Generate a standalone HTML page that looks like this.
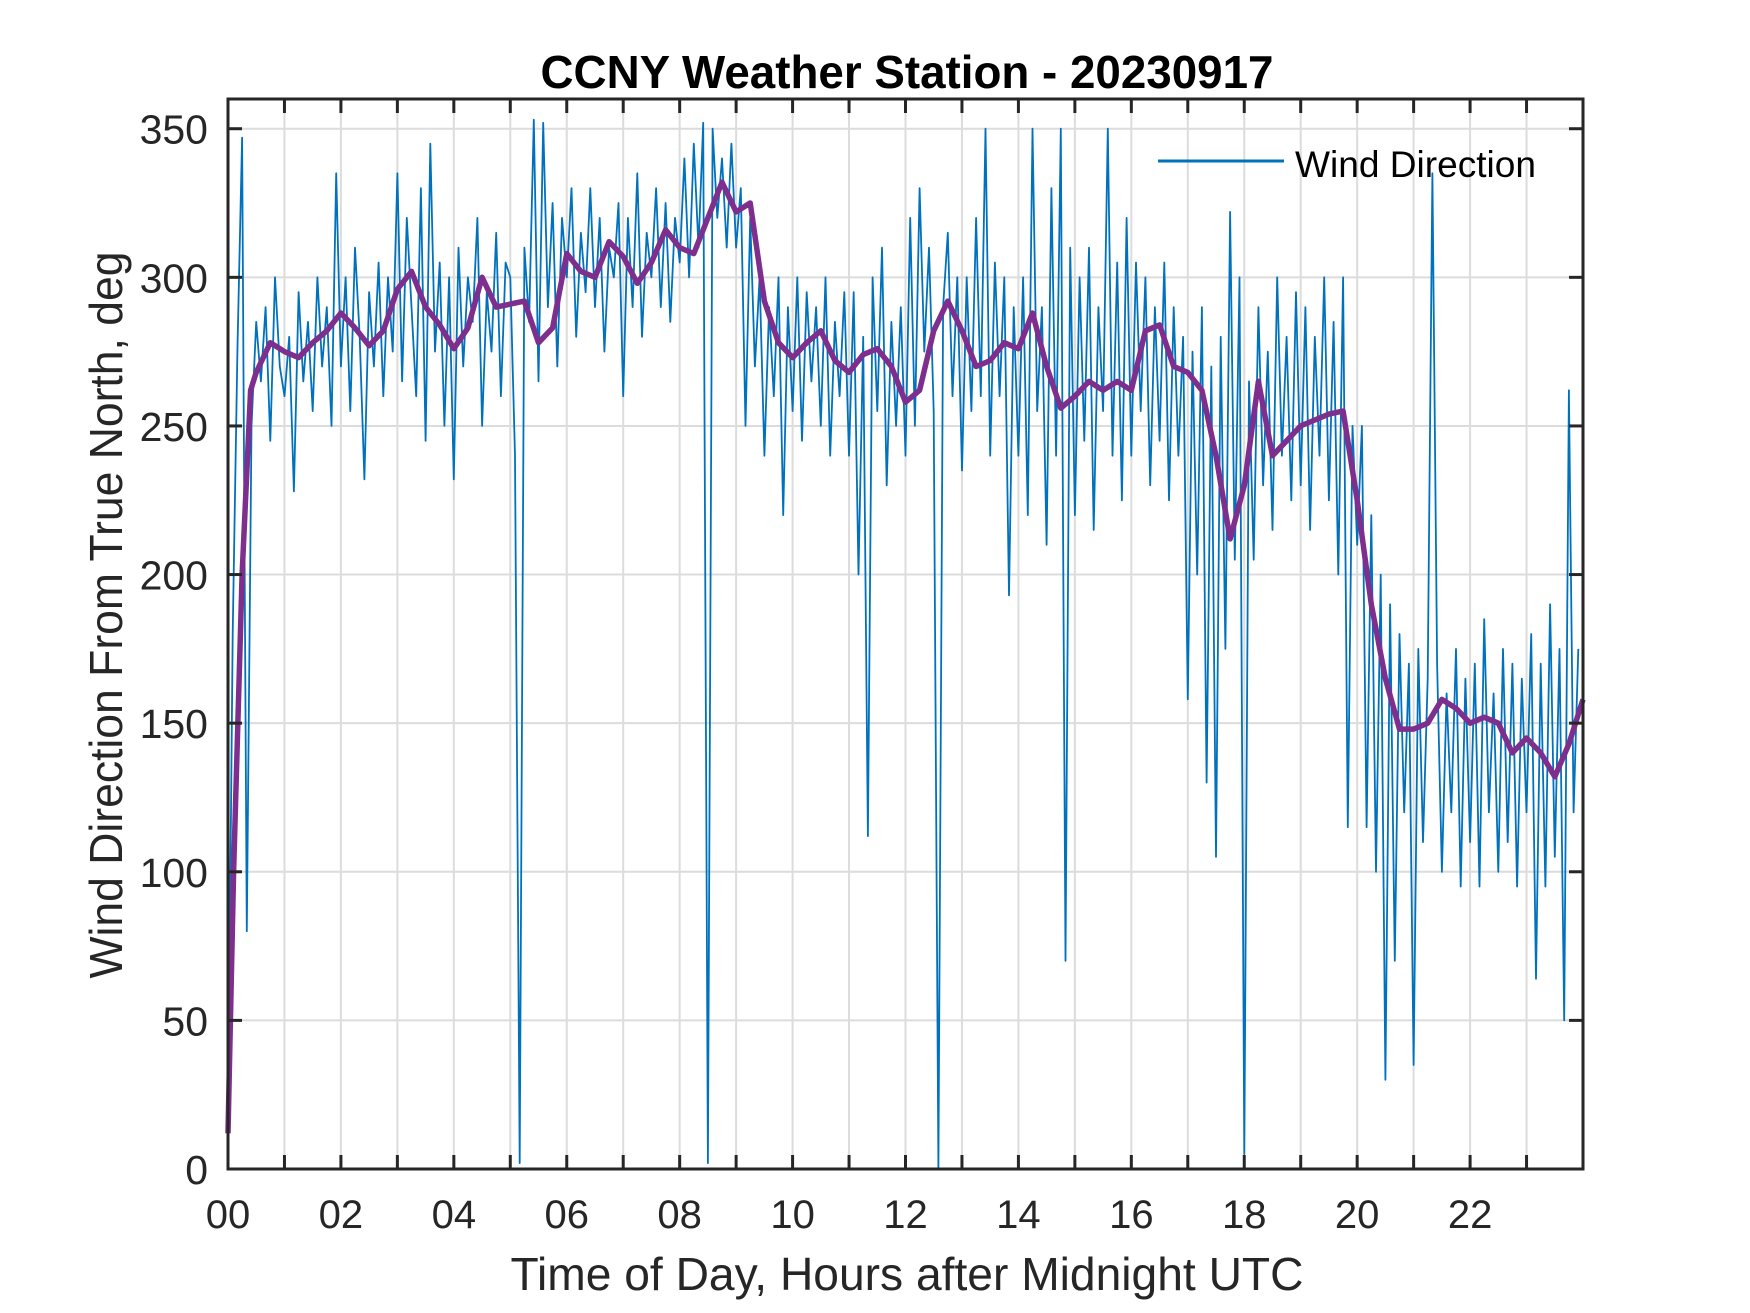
<!DOCTYPE html>
<html>
<head>
<meta charset="utf-8">
<style>
html,body{margin:0;padding:0;background:#fff;}
svg{display:block;}
text{font-family:"Liberation Sans",Arial,sans-serif;}
</style>
</head>
<body>
<svg id="chart" width="1750" height="1313" viewBox="0 0 1750 1313" xmlns="http://www.w3.org/2000/svg">
  <rect x="0" y="0" width="1750" height="1313" fill="#fff"/>
  <g id="grid"></g>
  <g id="plot"></g>
  <g id="axes"></g>
  <text x="907" y="88" text-anchor="middle" font-size="46" font-weight="bold" textLength="733" lengthAdjust="spacingAndGlyphs" fill="#000">CCNY Weather Station - 20230917</text>
  <text x="907" y="1290" text-anchor="middle" font-size="46" textLength="793" lengthAdjust="spacingAndGlyphs" fill="#262626">Time of Day, Hours after Midnight UTC</text>
  <text transform="translate(122,615) rotate(-90)" text-anchor="middle" font-size="46" textLength="727" lengthAdjust="spacingAndGlyphs" fill="#262626">Wind Direction From True North, deg</text>
  <g>
    <line x1="1158" y1="161" x2="1284" y2="161" stroke="#0072BD" stroke-width="3"/>
    <text x="1295" y="177" font-size="37" fill="#000" textLength="241" lengthAdjust="spacingAndGlyphs">Wind Direction</text>
  </g>
</svg>
<script>
const rawValues = [
15,180,275,347,80,250,285,265,290,245,300,270,
260,280,228,295,265,285,255,300,270,290,250,335,
270,300,255,310,280,232,295,270,305,260,300,275,
335,265,320,290,260,330,245,345,275,305,250,300,
232,310,270,300,285,320,250,295,275,315,260,305,
300,240,2,310,285,353,265,352,290,325,270,320,
300,330,280,315,295,330,290,320,275,310,300,325,
260,320,290,335,280,315,300,330,290,325,285,320,
305,340,300,345,310,352,2,350,320,340,310,345,
310,330,250,320,270,300,240,290,260,300,220,290,
255,300,245,295,265,290,250,300,240,285,260,295,
240,295,200,280,112,300,255,310,230,285,250,290,
240,320,250,330,275,310,255,0,290,315,260,300,
235,300,255,320,260,350,240,305,260,300,193,290,
240,300,220,350,255,290,210,330,240,350,70,310,
220,300,245,310,215,290,255,350,240,305,225,320,
240,305,255,300,230,290,245,305,225,290,240,280,
158,275,200,290,130,270,105,280,175,322,205,300,
5,265,205,290,230,275,215,300,240,280,225,295,
230,290,215,280,240,300,225,285,200,300,115,250,
210,250,115,220,100,200,30,190,70,180,120,170,
35,175,110,165,335,170,100,160,120,175,95,165,
110,170,95,185,120,160,100,175,110,170,95,165,
120,180,64,170,95,190,105,175,50,262,120,175
];
const meanHours = [0,0.1,0.25,0.4,0.5,0.75,1,1.25,1.5,1.75,2,2.25,2.5,2.75,3,3.25,3.5,3.75,4,4.25,4.5,4.75,5,5.25,5.5,5.75,6,6.25,6.5,6.75,7,7.25,7.5,7.75,8,8.25,8.5,8.75,9,9.25,9.5,9.75,10,10.25,10.5,10.75,11,11.25,11.5,11.75,12,12.25,12.5,12.75,13,13.25,13.5,13.75,14,14.25,14.5,14.75,15,15.25,15.5,15.75,16,16.25,16.5,16.75,17,17.25,17.5,17.75,18,18.25,18.5,18.75,19,19.25,19.5,19.75,20,20.25,20.5,20.75,21,21.25,21.5,21.75,22,22.25,22.5,22.75,23,23.25,23.5,23.75,24];
const meanValues = [12,100,200,262,268,278,275,273,278,282,288,283,277,282,296,302,290,284,276,283,300,290,291,292,278,283,308,302,300,312,307,298,305,316,310,308,320,332,322,325,292,278,273,278,282,272,268,274,276,270,258,262,282,292,282,270,272,278,276,288,270,256,260,265,262,265,262,282,284,270,268,262,240,212,230,265,240,245,250,252,254,255,225,190,165,148,148,150,158,155,150,152,150,140,145,140,132,143,158];
const xTickValues = [0,1,2,3,4,5,6,7,8,9,10,11,12,13,14,15,16,17,18,19,20,21,22,23,24];
const xTickLabels = ["00","","02","","04","","06","","08","","10","","12","","14","","16","","18","","20","","22","",""];
const yTickValues = [0,50,100,150,200,250,300,350];
const yTickLabels = ["0","50","100","150","200","250","300","350"];

const L=228,R=1583,T=99,B=1169;
const X0=0,X1=24,Y0=0,Y1=360;
function xs(v){return L+(v-X0)/(X1-X0)*(R-L);}
function ys(v){return B-(v-Y0)/(Y1-Y0)*(B-T);}
const NS="http://www.w3.org/2000/svg";
function mk(tag,attrs,parent){const e=document.createElementNS(NS,tag);for(const k in attrs)e.setAttribute(k,attrs[k]);parent.appendChild(e);return e;}
const grid=document.getElementById('grid'),plot=document.getElementById('plot'),axes=document.getElementById('axes');

xTickValues.forEach(v=>{
  if(v<=X0||v>=X1)return;
  const l=mk('line',{x1:xs(v),y1:T,x2:xs(v),y2:B,stroke:'#dcdcdc','stroke-width':2},grid);
  
  
});
yTickValues.forEach(v=>{
  if(v<=Y0)return;
  const l=mk('line',{x1:L,y1:ys(v),x2:R,y2:ys(v),stroke:'#dcdcdc','stroke-width':2},grid);
  
  
});

const n=rawValues.length;
let d='';
rawValues.forEach((v,i)=>{const h=i*24/n;d+=(i?'L':'M')+xs(h).toFixed(1)+','+ys(v).toFixed(1);});
const raw=mk('path',{d:d,fill:'none',stroke:'#0072BD','stroke-width':1.8,'stroke-linejoin':'round'},plot);



let d2='';
meanValues.forEach((v,i)=>{d2+=(i?'L':'M')+xs(meanHours[i]).toFixed(1)+','+ys(v).toFixed(1);});
const mean=mk('path',{d:d2,fill:'none',stroke:'#7E2F8E','stroke-width':5.5,'stroke-linejoin':'round'},plot);



const box=mk('rect',{x:L,y:T,width:R-L,height:B-T,fill:'none',stroke:'#262626','stroke-width':3},axes);



xTickValues.forEach((v,i)=>{
  const x=xs(v);
  const t1=mk('line',{x1:x,y1:B,x2:x,y2:B-14,stroke:'#262626','stroke-width':3},axes);
  
  
  const t2=mk('line',{x1:x,y1:T,x2:x,y2:T+14,stroke:'#262626','stroke-width':3},axes);
  
  
  if(xTickLabels[i]){
    const tx=mk('text',{x:x,y:1228,'text-anchor':'middle','font-size':40,fill:'#262626'},axes);
    tx.textContent=xTickLabels[i];
    
    
  }
});
yTickValues.forEach((v,i)=>{
  const y=ys(v);
  const t1=mk('line',{x1:L,y1:y,x2:L+14,y2:y,stroke:'#262626','stroke-width':3},axes);
  
  
  const t2=mk('line',{x1:R,y1:y,x2:R-14,y2:y,stroke:'#262626','stroke-width':3},axes);
  
  
  const tx=mk('text',{x:208,y:y+15,'text-anchor':'end','font-size':41,fill:'#262626'},axes);
  tx.textContent=yTickLabels[i];
  
  
});
</script>
</body>
</html>
